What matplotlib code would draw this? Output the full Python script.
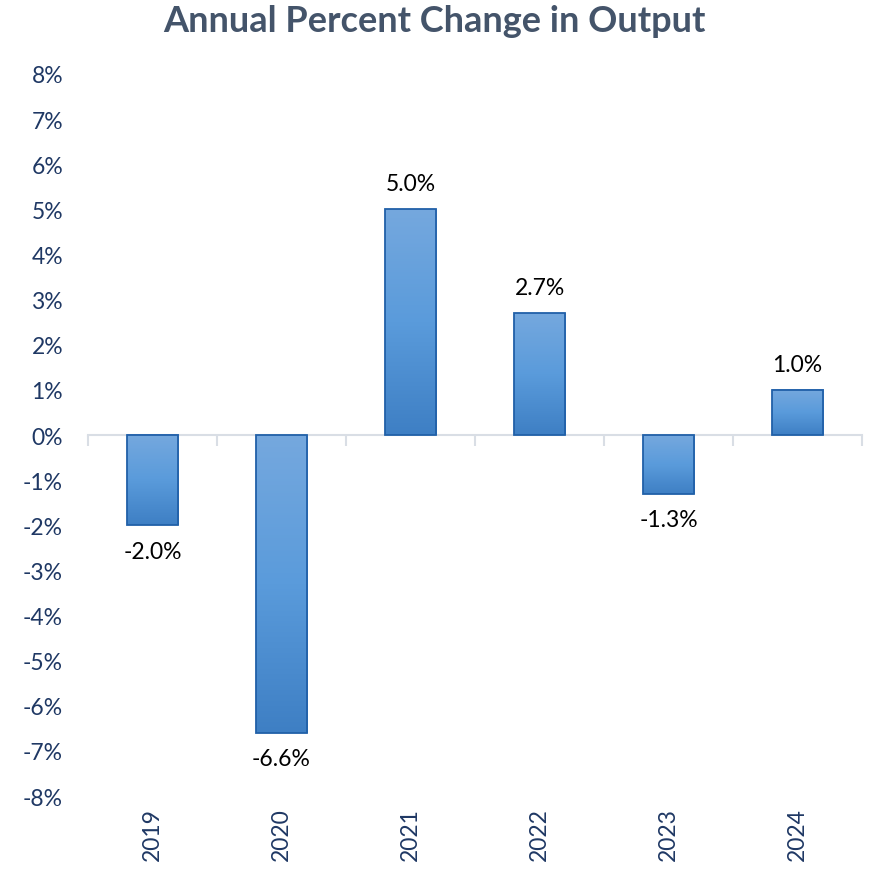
import matplotlib
matplotlib.use('Agg')
import matplotlib.pyplot as plt
import numpy as np
from matplotlib.colors import LinearSegmentedColormap
from matplotlib.ticker import FuncFormatter

# ─── DATA ────────────────────────────────────────────────────────────────────
years = ['2019', '2020', '2021', '2022', '2023', '2024']
pct_change = [-2.0, -6.6, 5.0, 2.7, -1.3, 1.0]
y_ticks = list(range(-8, 9))

# ─── STYLE ───────────────────────────────────────────────────────────────────
FONT = ['Lato', 'DejaVu Sans']
NAVY = '#1F3864'
TITLE_COL = '#44546A'
EDGE = '#2160A8'
BAR_W = 0.40
grad = LinearSegmentedColormap.from_list('bar', ['#3E7FC4', '#5A9BDB', '#75A8DE'])

plt.rcParams['font.family'] = FONT

fig = plt.figure(figsize=(8.69, 8.70), dpi=100)
ax = fig.add_axes([0.1013, 0.0839, 0.8907, 0.8299])

x = np.arange(len(years))

# gradient bars: light at top, dark at bottom
gimg = np.linspace(0, 1, 256).reshape(-1, 1)
for xi, v in zip(x, pct_change):
    lo, hi = min(0, v), max(0, v)
    ax.imshow(gimg, cmap=grad, origin='lower', aspect='auto',
              extent=(xi - BAR_W / 2, xi + BAR_W / 2, lo, hi), zorder=2)
bars = ax.bar(x, pct_change, width=BAR_W, facecolor='none',
              edgecolor=EDGE, linewidth=1.3, zorder=3)
ax.set_xlim(-0.5, len(years) - 0.5)
ax.set_ylim(-8, 8)

# value labels
for xi, v in zip(x, pct_change):
    off = 11 if v >= 0 else -11
    ax.annotate(f'{v:.1f}%', (xi, v), xytext=(0, off), textcoords='offset points',
                ha='center', va='bottom' if v >= 0 else 'top',
                fontsize=16.5, color='black')

# zero axis with boundary ticks
for s in ['top', 'right', 'left']:
    ax.spines[s].set_visible(False)
ax.spines['bottom'].set_position(('data', 0))
ax.spines['bottom'].set_color('#D9DEE5')
ax.spines['bottom'].set_linewidth(1.5)
ax.spines['bottom'].set_zorder(1)
ax.set_xticks(np.arange(-0.5, len(years) + 0.5, 1))
ax.set_xticklabels([])
ax.tick_params(axis='x', length=8, width=1.5, color='#D9DEE5', direction='out')

# year labels at bottom
for xi, yr in zip(x, years):
    ax.annotate(yr, (xi, -8), xytext=(0, -8), textcoords='offset points',
                rotation=90, ha='center', va='top', fontsize=16.5, color=NAVY)

ax.set_yticks(y_ticks)
ax.yaxis.set_major_formatter(FuncFormatter(lambda v, p: f'{v:.0f}%'))
ax.tick_params(axis='y', length=0, pad=18, labelsize=16.5, labelcolor=NAVY)

fig.text(0.5, 0.975, 'Annual Percent Change in Output', ha='center', va='center',
         fontsize=26, fontweight='bold', color=TITLE_COL)

plt.savefig('out.png', dpi=100, facecolor='white')
plt.close()
